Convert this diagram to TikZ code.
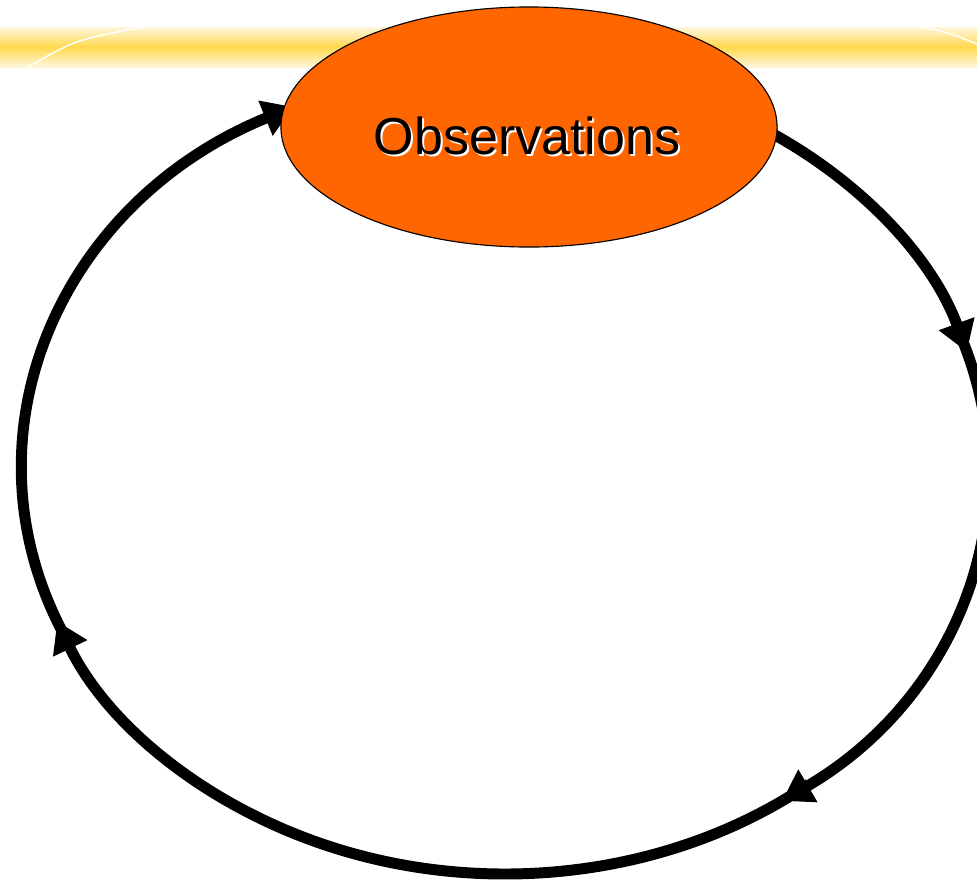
\documentclass[tikz,border=0pt]{standalone}
\usepackage{fontspec}
\setmainfont{Liberation Sans}
\usetikzlibrary{arrows.meta, shapes.geometric}
\definecolor{obsorange}{HTML}{FF6600}
\definecolor{bandyellow}{HTML}{FFD84D}
\definecolor{bandpale}{HTML}{FFF7DC}

\begin{document}
\begin{tikzpicture}[x=0.025cm, y=-0.025cm,
    loop arrow/.style={line width=7.8pt, -{Triangle[length=0.75cm, width=0.9cm]}},
    obs text/.style={font=\fontsize{37}{40}\selectfont, anchor=base}]
  \useasboundingbox (0,0) rectangle (977,883);

  % yellow band across the top
  \shade[top color=bandpale, bottom color=bandpale, middle color=bandyellow] (0,27) rectangle (977,67);
  \draw[white, line width=1pt] (28,67) .. controls (75,40) .. (143,27);
  \draw[white, line width=1pt] (922,27) .. controls (950,33) .. (977,44);

  % the loop, four arrows (each starts a little under the previous tip)
  \foreach \n/\s/\e in {a/-60/-17, b/-21/55, c/51/158, d/154/244} {
    \coordinate (\n) at ({505+483*cos(\s)}, {470+404*sin(\s)});
    \draw[loop arrow] (\n) arc[start angle=\s, end angle=\e, x radius=483, y radius=404];
  }

  % observations
  \node[ellipse, draw, line width=0.8pt, fill=obsorange, minimum width=12.4cm, minimum height=6cm, inner sep=0pt] (obs) at (529,127) {};
  \node[obs text, white] (shadow) at (529,156) {Observations};
  \node[obs text] (label) at (527,154) {Observations};
\end{tikzpicture}
\end{document}
